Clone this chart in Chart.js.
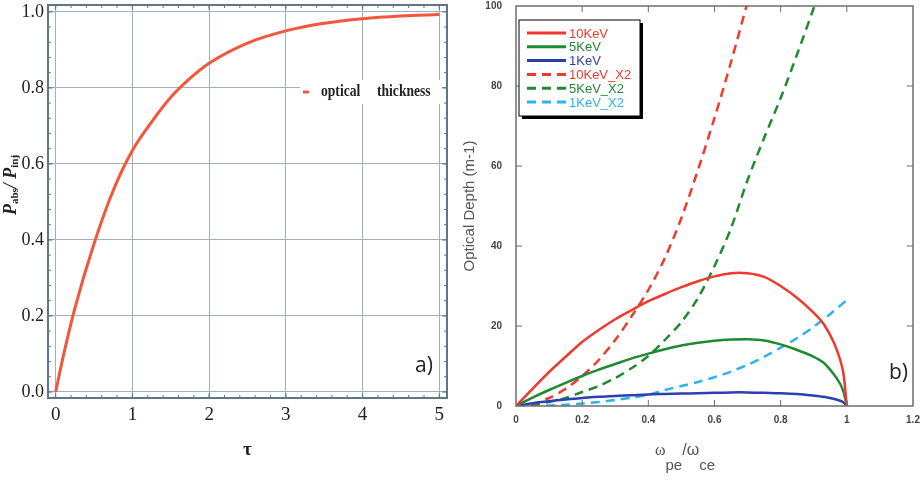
<!DOCTYPE html>
<html>
<head>
  <title>index</title>
  <script src="https://cdn.jsdelivr.net/npm/chart.js"></script>
  <style>
    body { margin: 0; background: #fff; }
    #panelA { position: absolute; left: 0; top: 0; width: 460px; height: 480px; }
    #panelB { position: absolute; left: 460px; top: 0; width: 463px; height: 480px; }
  </style>
</head>
<body>
  <div id="panelA"><canvas id="chartA"></canvas></div>
  <div id="panelB"><canvas id="chartB"></canvas></div>

  <script>
    // panel a) absorbed fraction vs optical thickness
    const tau = [0, 0.1, 0.25, 0.5, 0.75, 1, 1.25, 1.5, 1.75, 2, 2.5, 3, 3.5, 4, 4.5, 5];
    const absorbed = [0, 0.095, 0.22, 0.39, 0.53, 0.635, 0.71, 0.775, 0.825, 0.865, 0.918, 0.95, 0.97, 0.982, 0.989, 0.993];
    const tauTicks = [0, 1, 2, 3, 4, 5];
    const ratioTicks = [0, 0.2, 0.4, 0.6, 0.8, 1.0];

    // panel b) optical depth vs wpe/wce
    const solidX = [0, 0.05, 0.1, 0.15, 0.2, 0.25, 0.3, 0.35, 0.4, 0.45, 0.5, 0.55, 0.6, 0.65, 0.7, 0.75, 0.8, 0.85, 0.9, 0.93, 0.96, 0.98, 0.99, 1.0];
    const kev10 = [0, 4.3, 8.5, 12.3, 16, 19, 21.7, 24, 26.2, 28, 29.7, 31.2, 32.4, 33.2, 33.2, 32.3, 30, 27, 23.3, 20.5, 16, 11.5, 8, 0];
    const kev5 = [0, 2.1, 4, 5.8, 7.5, 9.1, 10.5, 11.9, 13.1, 14.2, 15.1, 15.8, 16.3, 16.6, 16.7, 16.4, 15.4, 14, 12.3, 10.8, 8, 5.5, 3.5, 0];
    const kev1 = [0, 0.7, 1.2, 1.6, 2.0, 2.3, 2.5, 2.7, 2.9, 3.0, 3.1, 3.2, 3.3, 3.4, 3.4, 3.3, 3.2, 3.0, 2.6, 2.3, 1.8, 1.3, 0.9, 0];
    const dashX = [0, 0.05, 0.1, 0.15, 0.2, 0.25, 0.3, 0.35, 0.4, 0.45, 0.5, 0.55, 0.6, 0.65, 0.7, 0.75, 0.8, 0.85, 0.9, 0.95, 1.0];
    const kev10X2 = [0, 0.5, 2, 4.3, 7.5, 11.5, 16.5, 22.5, 29, 37, 47, 59, 72, 86, 101];
    const kev5X2 = [0, 0.3, 1, 2, 3.5, 5, 7, 9.5, 12.5, 16.5, 21, 27, 35, 44.5, 56.5, 67, 77, 88, 99.5, 111];
    const kev1X2 = [0, 0, 0.1, 0.3, 0.6, 1.0, 1.5, 2.1, 2.8, 4.0, 5.0, 6.0, 7.2, 8.6, 10.3, 12.3, 14.6, 17, 19.8, 23, 26.5];
    const seriesNames = ['10KeV', '5KeV', '1KeV', '10KeV_X2', '5KeV_X2', '1KeV_X2'];
    const seriesColors = ['#ee3a2c', '#1f8a32', '#2c3fae', '#ee3a2c', '#1f8a32', '#2bb3ea'];

    function pairs(xs, ys) {
      return ys.map((y, i) => ({ x: xs[i], y: y }));
    }

    function noEdgePadding(s) {
      s.paddingTop = 0; s.paddingBottom = 0; s.paddingLeft = 0; s.paddingRight = 0;
    }

    // frame + inside tick marks
    const framePlugin = {
      id: 'frame',
      afterDraw(chart, args, o) {
        const { ctx, chartArea: a, scales } = chart;
        ctx.save();
        ctx.strokeStyle = o.color;
        ctx.lineWidth = o.width;
        ctx.strokeRect(a.left, a.top, a.right - a.left, a.bottom - a.top);
        ctx.lineWidth = 1;
        const mark = (scale, v, len) => {
          const p = scale.getPixelForValue(v);
          ctx.beginPath();
          if (scale.isHorizontal()) {
            if (p <= a.left + 1 || p >= a.right - 1) return;
            ctx.moveTo(p, a.bottom); ctx.lineTo(p, a.bottom - len);
            ctx.moveTo(p, a.top); ctx.lineTo(p, a.top + len);
          } else {
            if (p <= a.top + 1 || p >= a.bottom - 1) return;
            ctx.moveTo(a.left, p); ctx.lineTo(a.left + len, p);
            ctx.moveTo(a.right, p); ctx.lineTo(a.right - len, p);
          }
          ctx.stroke();
        };
        [scales.x, scales.y].forEach((s, k) => {
          s.ticks.forEach(t => mark(s, t.value, o.majorLen));
          const step = k === 0 ? o.minorX : o.minorY;
          if (step) {
            for (let v = Math.ceil(s.min / step) * step; v <= s.max; v += step) mark(s, v, o.minorLen);
          }
        });
        ctx.restore();
      }
    };

    // free text (labels, rich axis titles)
    const textPlugin = {
      id: 'texts',
      afterDraw(chart, args, o) {
        const ctx = chart.ctx;
        if (o.blank) {
          ctx.save();
          ctx.fillStyle = '#fff';
          ctx.fillRect(o.blank.x, o.blank.y, o.blank.w, o.blank.h);
          ctx.restore();
        }
        (o.items || []).forEach(item => {
          ctx.save();
          ctx.translate(item.x, item.y);
          if (item.rotate) ctx.rotate(item.rotate);
          if (item.sx) ctx.scale(item.sx, 1);
          ctx.textBaseline = 'middle';
          ctx.textAlign = 'left';
          let w = 0;
          item.parts.forEach(p => { ctx.font = p.font; w += ctx.measureText(p.text).width; });
          let x = item.center ? -w / 2 : 0;
          item.parts.forEach(p => {
            ctx.font = p.font;
            ctx.fillStyle = p.color || item.color || '#222';
            ctx.fillText(p.text, x, p.dy || 0);
            x += ctx.measureText(p.text).width;
          });
          ctx.restore();
        });
        if (o.dash) {
          ctx.save();
          ctx.strokeStyle = o.dash.color;
          ctx.lineWidth = 3;
          ctx.beginPath();
          ctx.moveTo(o.dash.x, o.dash.y); ctx.lineTo(o.dash.x + 6, o.dash.y);
          ctx.stroke();
          ctx.restore();
        }
      }
    };

    // boxed legend with shadow
    const boxLegend = {
      id: 'boxLegend',
      afterDraw(chart, args, o) {
        if (!o.box) return;
        const ctx = chart.ctx;
        const b = o.box;
        ctx.save();
        ctx.fillStyle = '#000';
        ctx.fillRect(b.x + 3, b.y + 3, b.w, b.h);
        ctx.fillStyle = '#fff';
        ctx.fillRect(b.x, b.y, b.w, b.h);
        ctx.strokeStyle = '#000';
        ctx.lineWidth = 1;
        ctx.strokeRect(b.x, b.y, b.w, b.h);
        ctx.font = '13px "Liberation Sans", Arial, sans-serif';
        ctx.textBaseline = 'middle';
        chart.data.datasets.forEach((ds, i) => {
          const y = b.y + 13 + i * 13.8;
          ctx.strokeStyle = ds.borderColor;
          ctx.lineWidth = 3;
          ctx.setLineDash(ds.borderDash || []);
          ctx.beginPath();
          ctx.moveTo(b.x + 8, y); ctx.lineTo(b.x + 47, y);
          ctx.stroke();
          ctx.setLineDash([]);
          ctx.fillStyle = ds.borderColor;
          ctx.fillText(ds.label, b.x + 50, y + 1);
        });
        ctx.restore();
      }
    };

    const serif = '"Liberation Serif", "Times New Roman", serif';
    const sans = '"Liberation Sans", Arial, sans-serif';

    new Chart(document.getElementById('chartA'), {
      type: 'line',
      data: {
        datasets: [{
          label: 'optical thickness',
          data: pairs(tau, absorbed),
          borderColor: '#f2573c',
          borderWidth: 3,
          pointRadius: 0,
          cubicInterpolationMode: 'monotone',
          fill: false
        }]
      },
      options: {
        responsive: true,
        maintainAspectRatio: false,
        animation: false,
        layout: { padding: { top: 5, right: 13, left: 0, bottom: 0 } },
        plugins: {
          legend: { display: false },
          tooltip: { enabled: false },
          frame: { color: '#5f7686', width: 2, majorLen: 5, minorLen: 3, minorX: 0.2, minorY: 0.04 },
          texts: {
            blank: { x: 300, y: 80, w: 142, h: 24 },
            dash: { x: 303, y: 92, color: '#f2573c' },
            items: [
              { x: 321, y: 92, sx: 0.8, parts: [{ text: 'optical', font: 'bold 17px ' + serif }] },
              { x: 377, y: 92, sx: 0.8, parts: [{ text: 'thickness', font: 'bold 17px ' + serif }] },
              { x: 415, y: 366, parts: [{ text: 'a)', font: '21px "Open Sans", sans-serif' }] },
              {
                x: 11, y: 185, rotate: -Math.PI / 2, center: true,
                parts: [
                  { text: 'P', font: 'bold italic 18px ' + serif },
                  { text: 'abs', font: 'bold 11px ' + serif, dy: 4 },
                  { text: '/ ', font: 'bold italic 18px ' + serif },
                  { text: 'P', font: 'bold italic 18px ' + serif },
                  { text: 'inj', font: 'bold 11px ' + serif, dy: 4 }
                ]
              }
            ]
          }
        },
        scales: {
          x: {
            type: 'linear',
            min: -0.1,
            max: 5.1,
            afterBuildTicks: s => { s.ticks = tauTicks.map(v => ({ value: v })); },
            afterFit: s => { s.height = 82; noEdgePadding(s); },
            grid: { color: '#9fb0bd', lineWidth: 1, drawTicks: false },
            border: { display: false },
            ticks: { color: '#222', font: { family: serif, size: 19 }, padding: 6, maxRotation: 0 },
            title: { display: true, text: 'τ', color: '#222', font: { family: serif, size: 19, weight: 'bold' }, padding: { top: 0, bottom: 19 } }
          },
          y: {
            min: -0.016,
            max: 1.018,
            afterBuildTicks: s => { s.ticks = ratioTicks.map(v => ({ value: v })); },
            afterFit: s => { s.width = 48; noEdgePadding(s); },
            grid: { color: '#9fb0bd', lineWidth: 1, drawTicks: false },
            border: { display: false },
            ticks: { color: '#222', font: { family: serif, size: 18 }, padding: 4, callback: v => v.toFixed(1) }
          }
        }
      },
      plugins: [framePlugin, textPlugin]
    });

    const solidSets = [kev10, kev5, kev1];
    const dashSets = [kev10X2, kev5X2, kev1X2];
    const datasetsB = [];
    solidSets.forEach((ys, i) => datasetsB.push({
      label: seriesNames[i],
      data: pairs(solidX, ys),
      borderColor: seriesColors[i],
      borderWidth: 2.5,
      pointRadius: 0,
      tension: 0.3,
      fill: false
    }));
    dashSets.forEach((ys, i) => datasetsB.push({
      label: seriesNames[i + 3],
      data: pairs(dashX, ys),
      borderColor: seriesColors[i + 3],
      borderWidth: 2.5,
      borderDash: [9, 6],
      pointRadius: 0,
      tension: 0.3,
      fill: false
    }));

    new Chart(document.getElementById('chartB'), {
      type: 'line',
      data: { datasets: datasetsB },
      options: {
        responsive: true,
        maintainAspectRatio: false,
        animation: false,
        layout: { padding: { top: 6, right: 10, left: 0, bottom: 0 } },
        plugins: {
          legend: { display: false },
          tooltip: { enabled: false },
          frame: { color: '#6d6d6d', width: 1.5, majorLen: 6, minorLen: 0 },
          boxLegend: { box: { x: 59, y: 20, w: 121, h: 96 } },
          texts: {
            items: [
              { x: 429, y: 373, parts: [{ text: 'b)', font: '21px "Open Sans", sans-serif' }] },
              {
                x: 195, y: 451,
                parts: [
                  { text: 'ω', font: '16px ' + serif, color: '#555' },
                  { text: 'pe', font: '15px ' + sans, color: '#555', dy: 15 },
                  { text: '/ω', font: '16px ' + sans, color: '#555' },
                  { text: 'ce', font: '15px ' + sans, color: '#555', dy: 15 }
                ]
              }
            ]
          }
        },
        scales: {
          x: {
            type: 'linear',
            min: 0,
            max: 1.2,
            ticks: { stepSize: 0.2, color: '#444', font: { family: sans, size: 10, weight: 'bold' }, padding: 8, maxRotation: 0, callback: v => String(+v.toFixed(1)) },
            afterFit: s => { s.height = 74; noEdgePadding(s); },
            grid: { display: false, drawTicks: false },
            border: { display: false }
          },
          y: {
            min: 0,
            max: 100,
            ticks: { stepSize: 20, color: '#444', font: { family: sans, size: 10, weight: 'bold' }, padding: 14 },
            afterFit: s => { s.width = 56; noEdgePadding(s); },
            grid: { display: false, drawTicks: false },
            border: { display: false },
            title: { display: true, text: 'Optical Depth (m-1)', color: '#555', font: { family: sans, size: 15 }, padding: { top: 1, bottom: 0 } }
          }
        }
      },
      plugins: [framePlugin, textPlugin, boxLegend]
    });
  </script>
</body>
</html>
